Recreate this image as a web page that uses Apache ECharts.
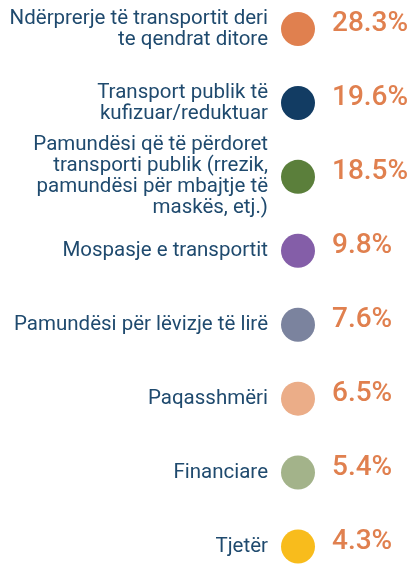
<!DOCTYPE html>
<html>
<head>
<meta charset="utf-8">
<script src="https://cdn.jsdelivr.net/npm/echarts@6/dist/echarts.min.js"></script>
<style>
  html, body { margin: 0; padding: 0; background: #fff; }
  #chart { width: 411px; height: 565px; }
</style>
</head>
<body>
<div id="chart"></div>
<script>
const categories = [
  "Ndërprerje të transportit deri\nte qendrat ditore",
  "Transport publik të\nkufizuar/reduktuar",
  "Pamundësi që të përdoret\ntransporti publik (rrezik,\npamundësi për mbajtje të\nmaskës, etj.)",
  "Mospasje e transportit",
  "Pamundësi për lëvizje të lirë",
  "Paqasshmëri",
  "Financiare",
  "Tjetër",
];
const shares = [28.3, 19.6, 18.5, 9.8, 7.6, 6.5, 5.4, 4.3];
const dotColors = [
  "#e0804f", "#123c63", "#5b7f3b", "#845ea8",
  "#7b839e", "#ebad88", "#a3b38a", "#f8bc1c",
];

const chart = echarts.init(document.getElementById("chart"));

chart.setOption({
  animation: false,
  grid: { left: 298, right: 10, top: 25, bottom: 17 },
  xAxis: { type: "value", min: 0, max: 1, show: false },
  yAxis: {
    type: "category",
    data: categories,
    inverse: true,
    boundaryGap: false,
    axisLine: { show: false },
    axisTick: { show: false },
    splitLine: { show: false },
    axisLabel: {
      margin: 30,
      color: "#1f4a6e",
      fontFamily: "Roboto",
      fontSize: 20.5,
      lineHeight: 21,
      align: "right",
      padding: [16, 0, 0, 0],
    },
  },
  series: [
    {
      type: "scatter",
      symbolSize: 34,
      itemStyle: { opacity: 1 },
      data: categories.map((c, i) => ({
        value: [0, c, shares[i]],
        itemStyle: { color: dotColors[i], opacity: 1 },
      })),
      label: {
        show: true,
        position: "right",
        distance: 17,
        offset: [0, -5],
        color: "#e0804f",
        fontFamily: "Roboto",
        fontWeight: 500,
        fontSize: 28,
        formatter: (p) => p.value[2].toFixed(1) + "%",
      },
    },
  ],
});
</script>
</body>
</html>
